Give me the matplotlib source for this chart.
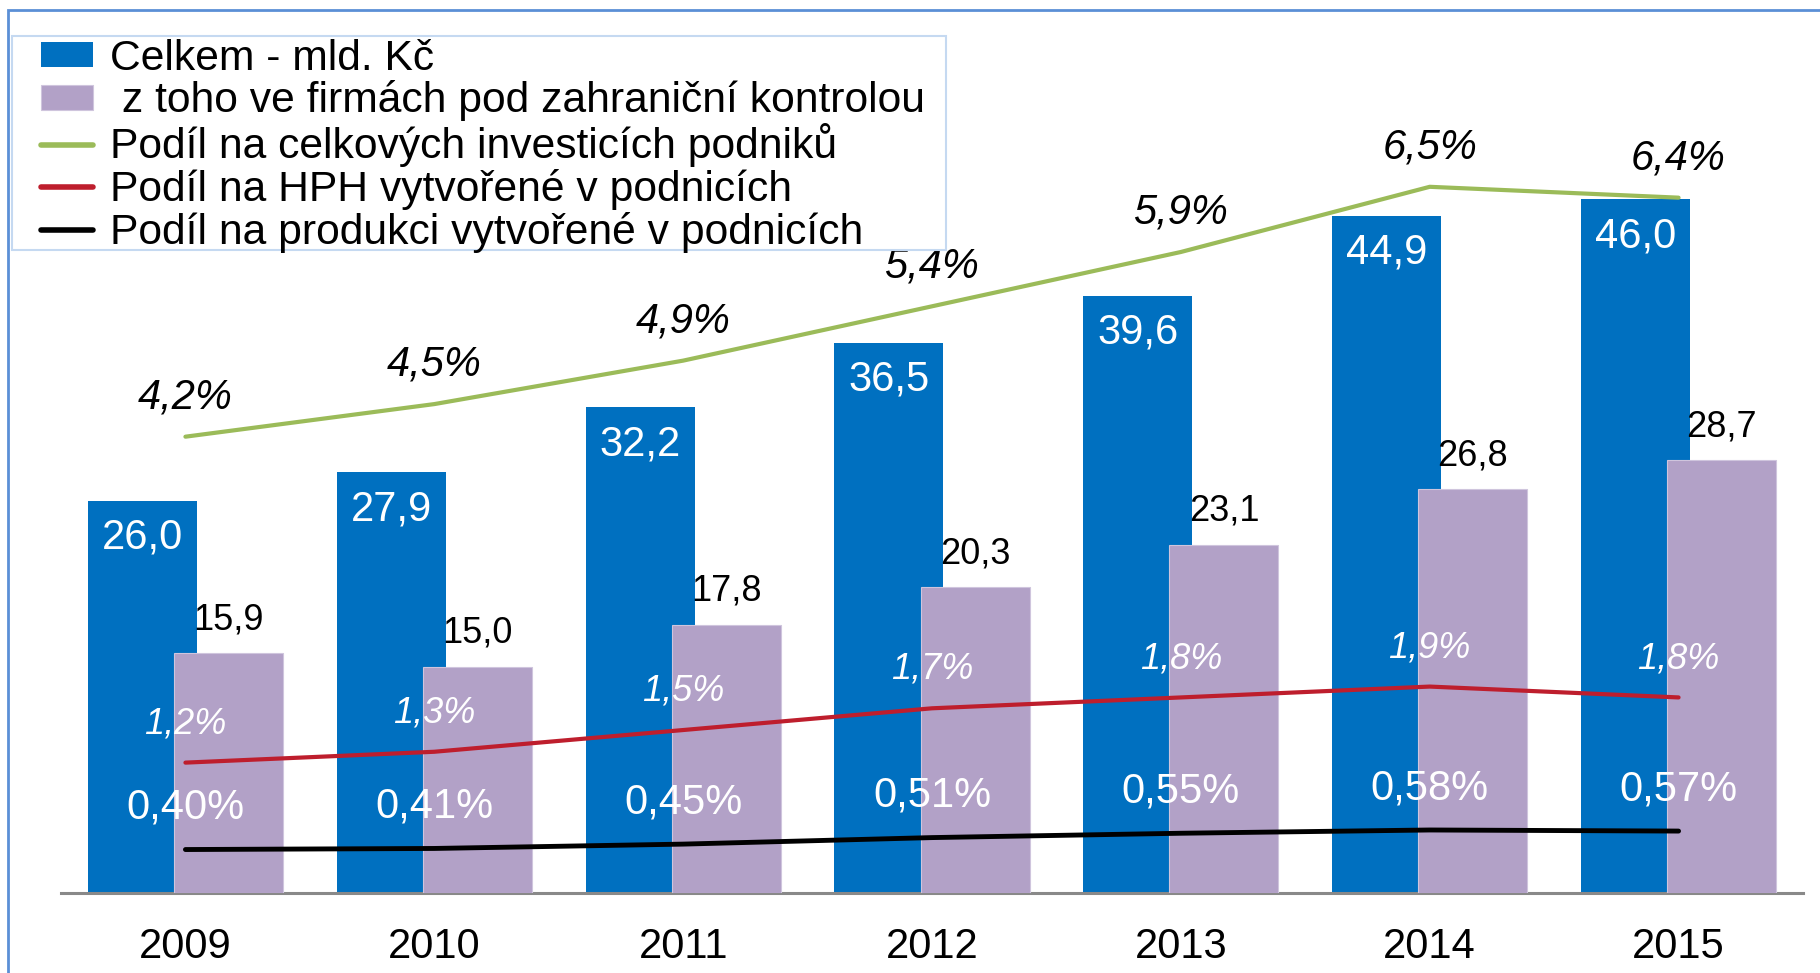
import matplotlib.pyplot as plt
from matplotlib.patches import Rectangle
import numpy as np

plt.rcParams['font.family'] = ['Liberation Sans', 'DejaVu Sans']

# ===== data =====
years = ['2009', '2010', '2011', '2012', '2013', '2014', '2015']
celkem = [26.0, 27.9, 32.2, 36.5, 39.6, 44.9, 46.0]
zahranicni = [15.9, 15.0, 17.8, 20.3, 23.1, 26.8, 28.7]
podil_investice = [4.2, 4.5, 4.9, 5.4, 5.9, 6.5, 6.4]
podil_hph = [1.2, 1.3, 1.5, 1.7, 1.8, 1.9, 1.8]
podil_produkce = [0.40, 0.41, 0.45, 0.51, 0.55, 0.58, 0.57]

labels = ['Celkem - mld. Kč',
          ' z toho ve firmách pod zahraniční kontrolou',
          'Podíl na celkových investicích podniků',
          'Podíl na HPH vytvořené v podnicích',
          'Podíl na produkci vytvořené v podnicích']

BLUE = '#0070C0'
PURPLE = '#B2A1C7'
GREEN = '#9BBB59'
RED = '#BE1E2D'
BLACK = '#000000'

W, H = 1820, 973


def cz(v, nd=1):
    return f'{v:.{nd}f}'.replace('.', ',')


fig = plt.figure(figsize=(W / 100, H / 100), dpi=100)
ax = fig.add_axes([61 / W, 80 / H, (1803 - 61) / W, 754 / H])
ax2 = ax.twinx()

x = np.arange(len(years))
w = 0.438
off = 0.173

b1 = ax.bar(x - off, celkem, width=w, color=BLUE, zorder=2)
b2 = ax.bar(x + off, zahranicni, width=w, color=PURPLE, edgecolor='#CFC5DD',
            linewidth=0.8, zorder=3)

for xi, v in zip(x, celkem):
    ax.annotate(cz(v), (xi - off, v), xytext=(0, -26.5), textcoords='offset points',
                ha='center', va='center', color='white', fontsize=30)
for xi, v in zip(x, zahranicni):
    ax.annotate(cz(v), (xi + off, v), xytext=(0, 24), textcoords='offset points',
                ha='center', va='center', color='black', fontsize=26)

ax.set_xlim(-0.5, 6.5)
ax.set_ylim(0, 50)
ax.set_xticks(x)
ax.set_xticklabels(years, fontsize=30)
ax.tick_params(axis='x', length=0, pad=24.5)
ax.set_yticks([])
for s in ['top', 'right', 'left']:
    ax.spines[s].set_visible(False)
ax.spines['bottom'].set_color('#898989')
ax.spines['bottom'].set_linewidth(2.2)

# lines on the percent axis
l1, = ax2.plot(x, podil_investice, color=GREEN, lw=3, solid_capstyle='round')
l2, = ax2.plot(x, podil_hph, color=RED, lw=3, solid_capstyle='round')
l3, = ax2.plot(x, podil_produkce, color=BLACK, lw=3.5, solid_capstyle='round')

for xi, v in zip(x, podil_investice):
    ax2.annotate(cz(v) + '%', (xi, v), xytext=(0, 28.5), textcoords='offset points',
                 ha='center', va='center', fontsize=30, style='italic', color='black')
for xi, v in zip(x, podil_hph):
    ax2.annotate(cz(v) + '%', (xi, v), xytext=(0, 28), textcoords='offset points',
                 ha='center', va='center', fontsize=26, style='italic', color='white')
for xi, v in zip(x, podil_produkce):
    ax2.annotate(cz(v, 2) + '%', (xi, v), xytext=(0, 30), textcoords='offset points',
                 ha='center', va='center', fontsize=30, color='white')

ax2.set_ylim(0, 6.94)
ax2.set_yticks([])
for s in ax2.spines.values():
    s.set_visible(False)

# legend box drawn by hand, legend itself without frame
fig.patches.append(Rectangle((12 / W, 1 - 250 / H), (946 - 12) / W, (250 - 36) / H,
                             transform=fig.transFigure, facecolor='white',
                             edgecolor='#C5D9F1', linewidth=1.5, zorder=5))
leg = fig.legend([b1, b2, l1, l2, l3], labels, loc='upper left',
                 bbox_to_anchor=(41 / W, 1 - 38.5 / H), fontsize=30.7,
                 frameon=False, borderpad=0, labelspacing=0.045,
                 handlelength=1.21, handleheight=0.53, handletextpad=0.4,
                 borderaxespad=0)
leg.set_zorder(6)
for h in leg.legend_handles[2:]:
    h.set_linewidth(4)

# outer frame
fig.patches.append(Rectangle((8 / W, -0.05), 1.1, 1.05 - 10 / H, transform=fig.transFigure,
                             fill=False, edgecolor='#5B8FD6', linewidth=2))

fig.savefig('out.png', dpi=100)
